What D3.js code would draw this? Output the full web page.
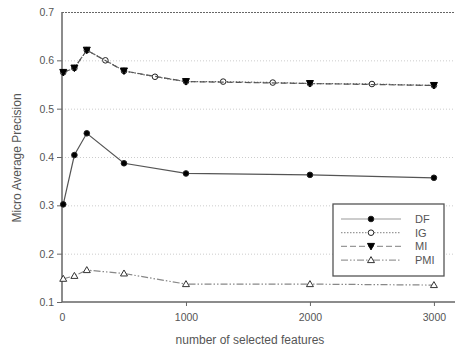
<!DOCTYPE html>
<html>
<head>
<meta charset="utf-8">
<script src="https://cdn.jsdelivr.net/npm/d3@7"></script>
<style>
body{margin:0;background:#fff;}
svg{display:block;font-family:"Liberation Sans",Arial,sans-serif;}
</style>
</head>
<body>
<svg id="chart" width="455" height="349"></svg>
<script>
// values
var df_x  = [10, 100, 200, 500, 1000, 2000, 3000];
var df_y  = [0.302, 0.404, 0.449, 0.387, 0.366, 0.363, 0.357];
var ig_x  = [10, 100, 200, 350, 500, 750, 1000, 1300, 1700, 2000, 2500, 3000];
var ig_y  = [0.575, 0.584, 0.621, 0.600, 0.578, 0.566, 0.556, 0.556, 0.554, 0.552, 0.551, 0.548];
var mi_x  = [10, 100, 200, 500, 1000, 2000, 3000];
var mi_y  = [0.575, 0.584, 0.621, 0.578, 0.556, 0.552, 0.548];
var pmi_x = [10, 100, 200, 500, 1000, 2000, 3000];
var pmi_y = [0.148, 0.154, 0.166, 0.159, 0.137, 0.137, 0.135];
var x_ticks = [0, 1000, 2000, 3000];
var y_ticks = [0.1, 0.2, 0.3, 0.4, 0.5, 0.6, 0.7];

var svg = d3.select("#chart");
var x = d3.scaleLinear().domain([0, 3170]).range([62, 455]);
var y = d3.scaleLinear().domain([0.1, 0.7]).range([302, 12]);

function pts(xs, ys){ return xs.map(function(v,i){ return {x:v, y:ys[i]}; }); }

// grid
svg.append("g").selectAll("line").data(y_ticks.slice(1, 6)).enter().append("line")
  .attr("x1", 62).attr("x2", 455)
  .attr("y1", function(d){ return y(d)+0.5; }).attr("y2", function(d){ return y(d)+0.5; })
  .attr("stroke", "#ccc").attr("stroke-width", 1).attr("stroke-dasharray", "1,2");
svg.append("line").attr("x1", 62).attr("x2", 455).attr("y1", y(0.7)+0.5).attr("y2", y(0.7)+0.5)
  .attr("stroke", "#666").attr("stroke-dasharray", "2,1");

// axes
var yAxis = svg.append("g").attr("transform", "translate(62,0)")
  .call(d3.axisLeft(y).tickValues(y_ticks).tickFormat(d3.format(".1f")).tickSize(5).tickPadding(3));
var xAxis = svg.append("g").attr("transform", "translate(0,302)")
  .call(d3.axisBottom(x).tickValues(x_ticks).tickFormat(d3.format("d")).tickSize(4).tickPadding(8));
[yAxis, xAxis].forEach(function(a){
  a.select(".domain").attr("stroke", "#666").attr("stroke-width", 1.5);
  a.selectAll(".tick line").attr("stroke", "#666");
  a.selectAll("text").attr("fill", "#555").attr("font-size", 10.5);
});
yAxis.select(".tick:last-of-type line").remove();
xAxis.select(".tick:first-of-type line").remove();
yAxis.select(".domain").attr("d", "M0," + y(0.1) + "V" + y(0.7));
xAxis.select(".domain").attr("d", "M62,0H455");

svg.append("text").attr("x", 250).attr("y", 344).attr("text-anchor", "middle")
  .attr("fill", "#555").attr("font-size", 12).text("number of selected features");
svg.append("text").attr("transform", "translate(21,158) rotate(-90)").attr("text-anchor", "middle")
  .attr("fill", "#555").attr("font-size", 12).text("Micro Average Precision");

var line = d3.line().x(function(d){ return x(d.x); }).y(function(d){ return y(d.y); });

var series = [
  {name:"DF",  data:pts(df_x, df_y),   dash:null,          color:"#555", sym:"circle", fill:"#000"},
  {name:"IG",  data:pts(ig_x, ig_y),   dash:"1.5,1.5",     color:"#666", sym:"circle", fill:"#fff"},
  {name:"MI",  data:pts(mi_x, mi_y),   dash:"6,3",         color:"#555", sym:"down",   fill:"#000"},
  {name:"PMI", data:pts(pmi_x, pmi_y), dash:"7,2,1.5,2,1.5,2", color:"#888", sym:"up", fill:"#fff"}
];

function marker(g, s, cx, cy){
  if(s.sym === "circle"){
    g.append("circle").attr("cx", cx).attr("cy", cy).attr("r", 2.8)
      .attr("fill", s.fill).attr("stroke", "#222").attr("stroke-width", 1);
  } else if(s.sym === "down"){
    g.append("path").attr("d", "M" + (cx-3.5) + "," + (cy-3) + "L" + (cx+3.5) + "," + (cy-3) + "L" + cx + "," + (cy+3.5) + "Z")
      .attr("fill", "#000").attr("stroke", "#000");
  } else {
    g.append("path").attr("d", "M" + (cx-3.5) + "," + (cy+2.5) + "L" + (cx+3.5) + "," + (cy+2.5) + "L" + cx + "," + (cy-3.5) + "Z")
      .attr("fill", "#fff").attr("stroke", "#333").attr("stroke-width", 1);
  }
}

series.forEach(function(s){
  var g = svg.append("g");
  g.append("path").datum(s.data).attr("d", line).attr("fill", "none")
    .attr("stroke", s.color).attr("stroke-width", 1.2).attr("stroke-dasharray", s.dash);
  s.data.forEach(function(d){ marker(g, s, x(d.x), y(d.y)); });
});

// legend
var lg = svg.append("g");
lg.append("rect").attr("x", 333).attr("y", 204).attr("width", 111).attr("height", 72)
  .attr("fill", "#fff").attr("stroke", "#555").attr("stroke-width", 1.3);
series.forEach(function(s, i){
  var ly = 219 + i * 13.7;
  lg.append("line").attr("x1", 341).attr("x2", 401).attr("y1", ly).attr("y2", ly)
    .attr("stroke", "#999").attr("stroke-width", 1.2).attr("stroke-dasharray", s.dash);
  marker(lg, s, 371, ly);
  lg.append("text").attr("x", 415).attr("y", ly + 4).attr("fill", "#555").attr("font-size", 11).text(s.name);
});
</script>
</body>
</html>
